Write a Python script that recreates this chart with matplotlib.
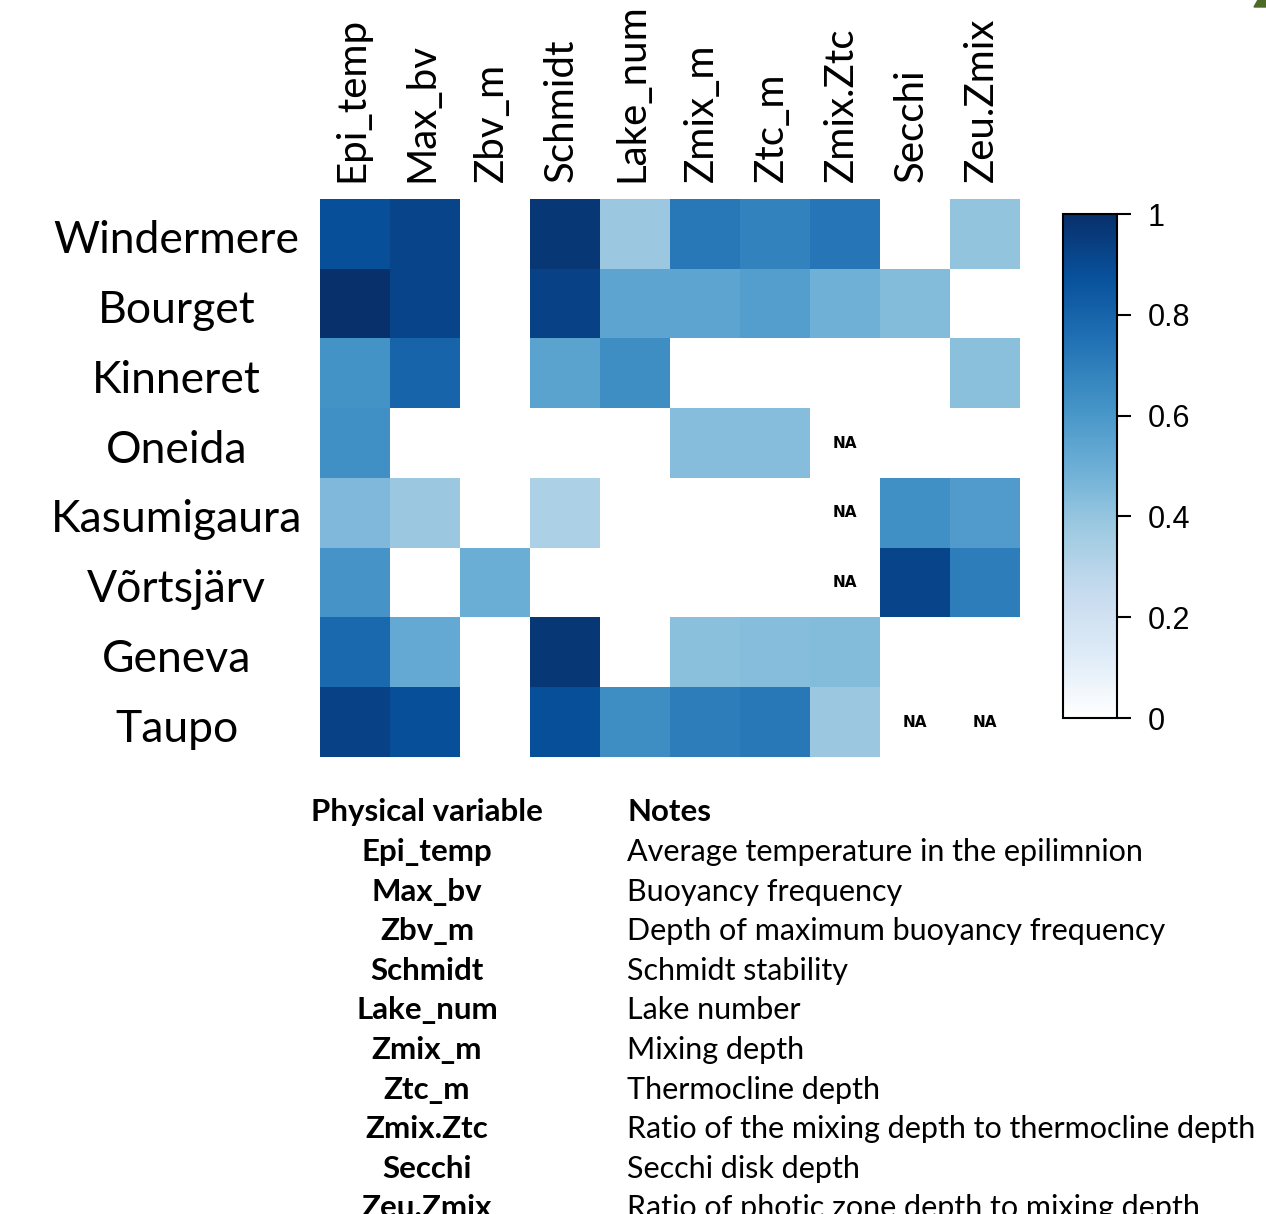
import numpy as np
import matplotlib.pyplot as plt
from matplotlib.colors import LinearSegmentedColormap
from matplotlib.patches import Polygon

lakes = ["Windermere", "Bourget", "Kinneret", "Oneida", "Kasumigaura",
         "Võrtsjärv", "Geneva", "Taupo"]
variables = ["Epi_temp", "Max_bv", "Zbv_m", "Schmidt", "Lake_num",
             "Zmix_m", "Ztc_m", "Zmix.Ztc", "Secchi", "Zeu.Zmix"]
notes = ["Average temperature in the epilimnion",
         "Buoyancy frequency",
         "Depth of maximum buoyancy frequency",
         "Schmidt stability",
         "Lake number",
         "Mixing depth",
         "Thermocline depth",
         "Ratio of the mixing depth to thermocline depth",
         "Secchi disk depth",
         "Ratio of photic zone depth to mixing depth"]

nan = np.nan
# relative importance per lake (rows) and variable (columns); nan = not available
importance = np.array([
    [0.88, 0.92, 0.00, 0.97, 0.38, 0.72, 0.68, 0.73, 0.00, 0.40],
    [1.00, 0.92, 0.00, 0.93, 0.54, 0.54, 0.57, 0.49, 0.44, 0.00],
    [0.62, 0.80, 0.00, 0.55, 0.64, 0.00, 0.00, 0.00, 0.00, 0.42],
    [0.63, 0.00, 0.00, 0.00, 0.00, 0.43, 0.43, nan,  0.00, 0.00],
    [0.45, 0.38, 0.00, 0.33, 0.00, 0.00, 0.00, nan,  0.63, 0.58],
    [0.61, 0.00, 0.50, 0.00, 0.00, 0.00, 0.00, nan,  0.92, 0.70],
    [0.78, 0.52, 0.00, 0.97, 0.00, 0.42, 0.43, 0.44, 0.00, 0.00],
    [0.93, 0.88, 0.00, 0.88, 0.64, 0.70, 0.72, 0.38, nan,  nan],
])
cbar_ticks = [0, 0.2, 0.4, 0.6, 0.8, 1]

W, H = 1266, 1214
fig = plt.figure(figsize=(W / 100, H / 100), dpi=100)

def fbox(x0, y0, x1, y1):
    # pixel box (top-left origin) -> figure fraction rect
    return [x0 / W, 1 - y1 / H, (x1 - x0) / W, (y1 - y0) / H]

# brewer Blues ramp, but starting from plain white
blues = ["#ffffff", "#deebf7", "#c6dbef", "#9ecae1", "#6baed6",
         "#4292c6", "#2171b5", "#08519c", "#08306b"]
cmap = LinearSegmentedColormap.from_list("blues_w", blues, N=256)
cmap.set_bad("white")

ax = fig.add_axes(fbox(320, 199, 1020, 757))
im = ax.imshow(np.ma.masked_invalid(importance), cmap=cmap, vmin=0, vmax=1,
               aspect="auto", interpolation="nearest")
for i in range(importance.shape[0]):
    for j in range(importance.shape[1]):
        if np.isnan(importance[i, j]):
            ax.text(j, i, "NA", ha="center", va="center", fontsize=11,
                    fontweight="bold", family="Liberation Sans Narrow")
ax.set_xticks([])
ax.set_yticks([])
for s in ax.spines.values():
    s.set_visible(False)

lab_font = "Lato"
for j, v in enumerate(variables):
    ax.text(j - 0.05, -0.74, v, rotation=90, ha="center", va="bottom",
            fontsize=29, family=lab_font)
for i, lk in enumerate(lakes):
    ax.text(-2.55, i + 0.1, lk, ha="center", va="center", fontsize=32,
            family=lab_font)

cax = fig.add_axes(fbox(1063, 214, 1117, 718))
cb = fig.colorbar(im, cax=cax, ticks=cbar_ticks)
cb.ax.set_yticklabels(["0", "0.2", "0.4", "0.6", "0.8", "1"])
cb.ax.tick_params(labelsize=22, length=10, width=1.5, pad=12)
cb.outline.set_linewidth(1.5)
for t in cb.ax.get_yticklabels():
    t.set_family("Liberation Sans")

# variable description table
fig.text(427 / W, 1 - 812 / H, "Physical variable", ha="center", va="center",
         fontsize=22.5, fontweight="bold", family=lab_font)
fig.text(627 / W, 1 - 812 / H, "Notes", ha="left", va="center",
         fontsize=22.5, fontweight="bold", family=lab_font)
for k, (v, n) in enumerate(zip(variables, notes)):
    y = 1 - (852 + 39.6 * k) / H
    fig.text(427 / W, y, v, ha="center", va="center", fontsize=22.5,
             fontweight="bold", family=lab_font)
    fig.text(627 / W, y, n, ha="left", va="center", fontsize=22,
             family=lab_font)

# green fragment in the top-right corner
fig.patches.append(Polygon([[1254 / W, 1 - 7 / H], [1258 / W, 1.0],
                            [1.0, 1.0], [1.0, 1 - 7 / H]],
                           closed=True, transform=fig.transFigure,
                           color="#4d6b26", zorder=10))

fig.savefig("out.png", dpi=100)
